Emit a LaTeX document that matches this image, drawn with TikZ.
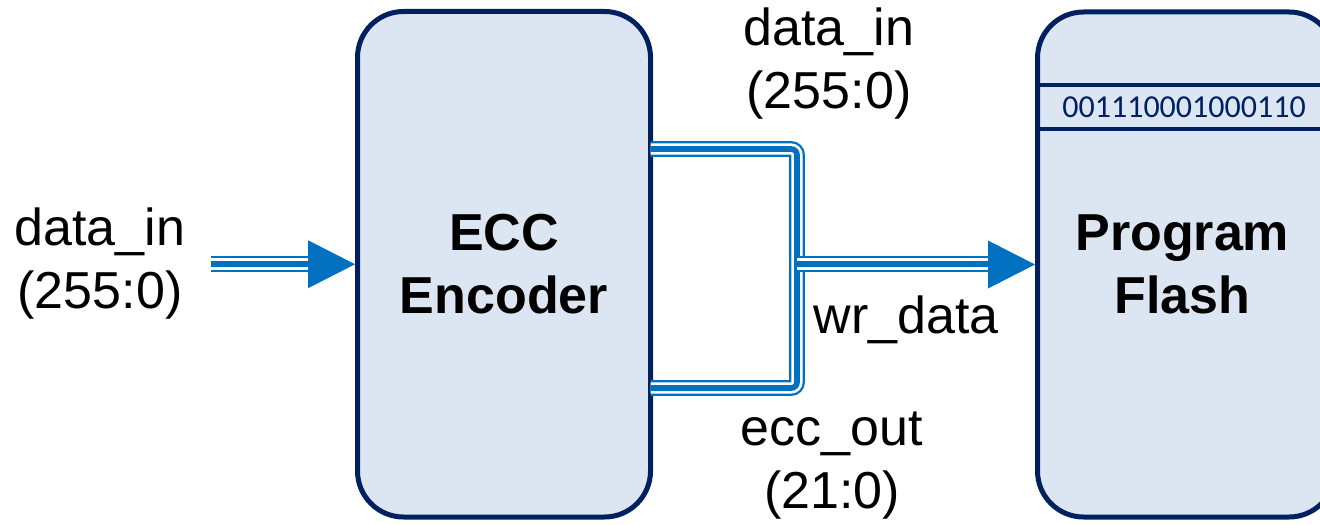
\documentclass[tikz,border=0pt]{standalone}
\usepackage{fontspec}
\setmainfont{Liberation Sans}
\newfontfamily\calib{Carlito}
\definecolor{wblue}{HTML}{0070C0}
\definecolor{navy}{HTML}{002060}
\definecolor{boxfill}{HTML}{DCE6F2}
\begin{document}
\begin{tikzpicture}[x=0.5pt,y=-0.5pt,
  box/.style={draw=navy, fill=boxfill, line width=2.5pt, rounded corners=23pt,
    inner sep=0pt, align=center, font=\fontsize{26}{31.5}\selectfont\bfseries},
  lbl/.style={inner sep=0pt, align=center, font=\fontsize{26}{31.5}\selectfont},
  bus/.style={draw=wblue, line width=7.85pt,
    postaction={draw=white, line width=5.55pt},
    postaction={draw=wblue, line width=2.85pt}},
  head/.style={fill=wblue, draw=none}]
\useasboundingbox (0,0) rectangle (1320,524);
\clip (0,0) rectangle (1320,524);
% boxes
\node[box, minimum width=146.5pt, minimum height=252.75pt] (enc) at (504,264.25) {ECC\\Encoder};
\node[box, minimum width=148.75pt, minimum height=252.5pt, text width=140pt] (flash) at (1186.25,264.5) {\hspace*{-4pt}Program\\\hspace*{-4pt}Flash};
\coordinate (b1l) at (1037.5,85);
\coordinate (b1r) at (1335,85);
\coordinate (b2l) at (1037.5,129);
\coordinate (b2r) at (1335,129);
\draw[navy, line width=2pt] (b1l) -- (b1r);
\draw[navy, line width=2pt] (b2l) -- (b2r);
\node[inner sep=0pt, text=navy, font=\calib\fontsize{16}{18}\selectfont] (bits) at (1184,107.5) {001110001000110};
% input bus
\coordinate (inS) at (211,264);
\coordinate (inE) at (312,264);
\draw[bus] (inS) -- (inE);
\fill[head] (enc.west) -- ++(-47,-24) -- ++(0,48) -- cycle;
% encoder output bus
\coordinate (t0) at (650.5,149);
\coordinate (t1) at (797,149);
\coordinate (u1) at (797,388);
\coordinate (u0) at (650.5,388);
\coordinate (j) at (797,264);
\coordinate (oE) at (992,264);
\draw[bus, rounded corners=3pt] (t0) -- (t1) -- (u1) -- (u0);
\draw[bus] (j) -- (oE);
\fill[head] (flash.west) -- ++(-47,-24) -- ++(0,48) -- cycle;
% labels
\node[lbl] (lin) at (100,264) {data\_in\\(255:0)};
\node[lbl] (ldi) at (829,64) {data\_in\\(255:0)};
\node[lbl] (lwr) at (906,320) {wr\_data};
\node[lbl] (lec) at (832,466) {ecc\_out\\(21:0)};
\end{tikzpicture}
\end{document}
